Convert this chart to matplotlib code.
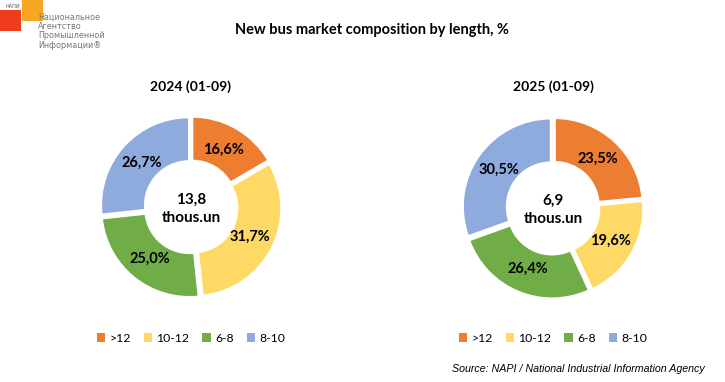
import matplotlib
matplotlib.use("Agg")
import matplotlib.pyplot as plt
from matplotlib.patches import Rectangle, Patch
import numpy as np

categories = [">12", "10-12", "6-8", "8-10"]
share_2024 = [16.6, 31.7, 25.0, 26.7]
share_2025 = [23.5, 19.6, 26.4, 30.5]
totals = ["13,8", "6,9"]
subtitles = ["2024 (01-09)", "2025 (01-09)"]
colors = ["#ED7D31", "#FFD966", "#70AD47", "#8FAADC"]

plt.rcParams["font.family"] = ["Lato", "DejaVu Sans"]

W, H = 725, 382
fig = plt.figure(figsize=(W / 100, H / 100), dpi=100)
fig.patch.set_facecolor("white")

def px(x, y):
    return x / W, 1 - y / H

fig.text(*px(372, 30), "New bus market composition by length, %", ha="center", va="center",
         fontsize=10.5, fontweight="bold")

centers = [(191, 207), (553, 208)]
R = 88
for (cx, cy), vals, tot, sub in zip(centers, [share_2024, share_2025], totals, subtitles):
    ax = fig.add_axes([(cx - R) / W, (H - cy - R) / H, 2 * R / W, 2 * R / H])
    ax.pie(vals, colors=colors, startangle=90, counterclock=False,
           explode=[0.03] * len(vals),
           wedgeprops=dict(width=0.5, edgecolor="white", linewidth=1.5))
    ang = 90.0
    for v in vals:
        mid = ang - v / 100 * 360 / 2
        ang -= v / 100 * 360
        r = 0.75
        ax.text(r * np.cos(np.radians(mid)), r * np.sin(np.radians(mid)),
                f"{v:.1f}%".replace(".", ","), ha="center", va="center",
                fontsize=10.5, fontweight="bold")
    ax.text(0, -0.02, f"{tot}\nthous.un", ha="center", va="center", fontsize=11,
            fontweight="bold", linespacing=1.35)
    ax.set_xlim(-1, 1)
    ax.set_ylim(-1, 1)
    ax.set_aspect("equal")
    ax.axis("off")
    fig.text(*px(cx, 87), sub, ha="center", va="center", fontsize=10, fontweight="bold")
    handles = [Patch(facecolor=c, edgecolor="none") for c in colors]
    fig.legend(handles, categories, loc="center", bbox_to_anchor=px(cx, 338), ncol=4,
               frameon=False, fontsize=8.8, handlelength=0.7, handleheight=0.7,
               handletextpad=0.35, columnspacing=1.05)

fig.text(*px(705, 369), "Source: NAPI / National Industrial Information Agency", ha="right",
         va="center", fontsize=7.7, style="italic", family="Liberation Sans")

# logo
fig.patches.append(Rectangle(px(0, 31), 21 / W, 21 / H, transform=fig.transFigure,
                             facecolor="#F03C1E", edgecolor="none"))
fig.patches.append(Rectangle(px(22, 21), 21 / W, 21 / H, transform=fig.transFigure,
                             facecolor="#F5A623", edgecolor="none"))
fig.text(*px(6, 6), "НАПИ", fontsize=3.5, ha="left", va="center", color="#555555",
         family="DejaVu Sans")
fig.text(*px(38, 31), "Национальное\nАгентство\nПромышленной\nИнформации®", fontsize=5.8,
         ha="left", va="center", color="#777777", linespacing=1.05,
         family="DejaVu Sans")

fig.savefig("out.png", dpi=100)
